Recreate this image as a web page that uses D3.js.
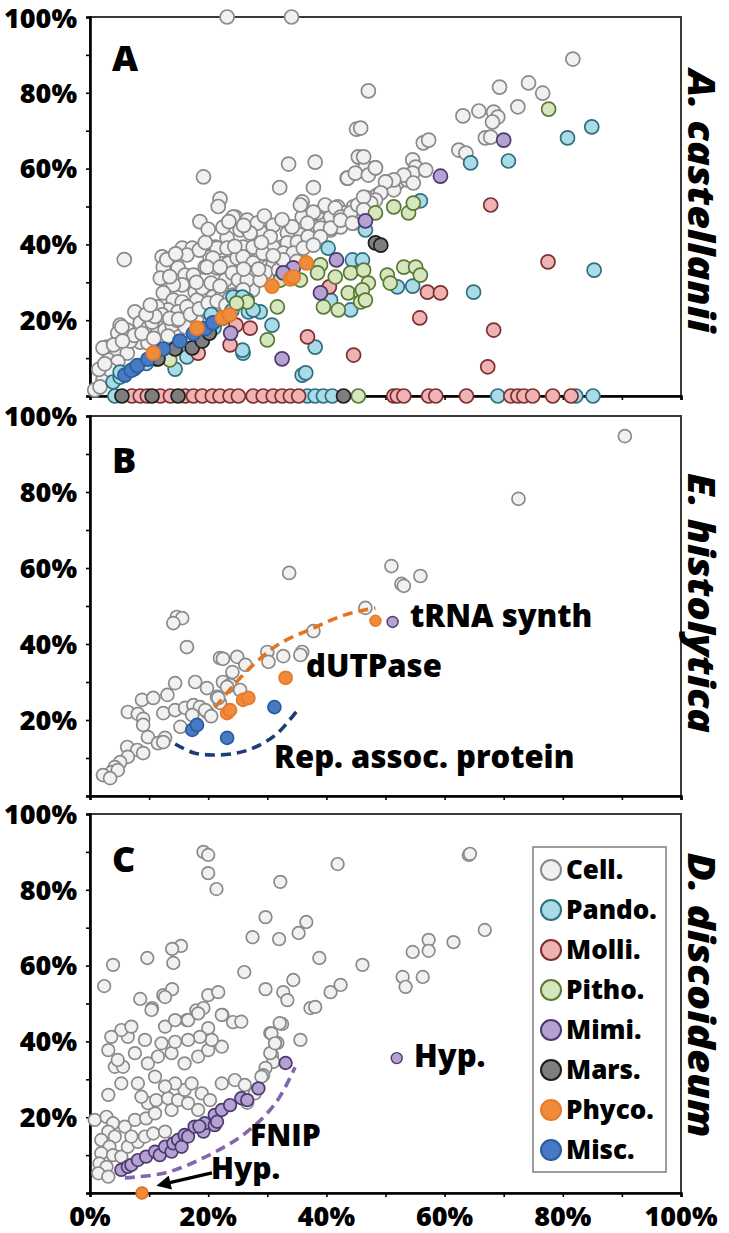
<!DOCTYPE html>
<html><head><meta charset="utf-8">
<script src="https://cdn.jsdelivr.net/npm/d3@7"></script>
<style>body{margin:0;background:#fff}text{font-family:"Open Sans",sans-serif;font-weight:800}</style>
</head><body>
<svg id="chart" width="729" height="1233"></svg>
<script>
// ---------- DATA (x%, y%) ----------
const seriesNames = ["Cell.","Pando.","Molli.","Pitho.","Mimi.","Mars.","Phyco.","Misc."];
const yTickLabels = [20,40,60,80,100];
const xTickLabels = [0,20,40,60,80,100];

// Panel A: A. castellanii
const aCell = [[23.2,100],[34.1,100],[47.1,80.5],[45.1,70.4],[19.2,57.8],[33.6,61.2],[38.1,61.7],[32.1,55],[37.8,55],[45.5,63],[43.5,57.5],[22,52],[21.7,50],[18.6,46],[5.8,36],
[24.6,47.2],[25.4,43.8],[23.2,41.7],[21.2,39.3],[22.4,38.5],[15.6,39],[17.3,39],[16.4,37.2],[12.2,36.7],[12.4,34],[20.3,36.7],[19.5,34],[21.5,33.8],[23.4,35],[24.9,36.4],[14.9,33.8],[16.1,31.9],[17.5,31.9],[15.6,29.3],[14.1,29.3],[11.9,31.1],[12.4,27.2],[22.9,30.6],[24.1,32.5],[25.1,30.6],[17.8,27.4],[19.2,26.6],[20.8,26.1],[22.4,27.4],[24.1,26.6],[25.8,27.2],[14.1,25.3],[15.6,24.8],[16.6,23.5],[13.2,22.7],[14.9,22.2],[11.4,23.5],[12.2,21.4],[7.6,22.2],[8.5,19.3],[5.1,18.7],[4.7,16.6],[6.3,17.4],[9.8,17.9],[11.4,16.6],[12.7,17.4],[13.9,18.7],[16.1,18.2],[18.1,20.8],[19.8,22.2],[21.5,20.8],[22.9,21.9],[8.5,14.2],[9.8,14],[11.9,13.5],[13.9,14.2],[15.3,14.2],[2.9,12.9],[4.6,11.6],[6.3,11.3],[3.1,9.5],[4.7,9],[2.2,4.2],[0.8,1.6],[1.7,2.4],[3.4,6.9],
[2.2,12.7],[5.4,18.2],[24.2,47.2],[26.6,46.4],[28.8,45.9],[26.8,43.8],[28.8,43.3],[21.5,39],[23.2,39],[20.8,36.4],[19.8,34],[22,34],[26.6,36.7],[28.3,35.9],[27.6,33.2],[30,34],[30,31.4],[27.1,31.4],[31.7,35.1],[33.4,36.7],[32.5,39.3],[34.4,41.2],[35.6,42.5],[35.9,47.2],[37.8,44.6],[36.9,41.2],[33.4,43],[38.5,48.3],[39.8,49.9],[40.7,47.2],[41.9,49.9],[43.2,48.3],[44.6,49.9],[45.8,48.3],[39,43],[40.7,43.8],[42.4,44.6],[44.6,45.6],[23.7,25.9],[25.4,27.2],[27.5,28],[23.2,22.7],[18.1,25.3],[19.5,22.7],[16.4,23.5],[14.7,20],
[45.4,63.1],[46.6,60.4],[48.3,60.2],[43.6,57.5],[44.9,58.8],[47.1,58.3],[35.9,51.2],[35.6,50.4],[39.8,50.4],[41.5,49.6],[37.8,48.5],[42.4,47.2],[44.1,48.3],[45.3,50.4],[47,52.2],[48.6,53],[50.3,56.5],[52,56.2],[53.7,57],[51.4,54.4],[34.2,44.6],[36.8,45.6],[39,44.3],[40.7,44.3],[42.4,46.4],[44.4,45.6],[28.3,45.6],[27.1,43],[31,39.3],[33.4,40.4],[35.1,40.6],[36.9,42],[39,42],[32.7,37.7],[34.4,37.7],[36.1,39],[37.8,39.8],[25.9,39.3],[27.6,39.3],[29.3,37.7],[25.9,36.7],[27.6,35.1],[31,34.6],[29.7,32.7],[31.9,33.2],[32.7,35.9],[27.1,32.5],[26.6,30.6],[28.8,30.6],[25.9,28],
[6.8,14.5],[7.5,16],[8.8,16.5],[10.5,19.5],[11,21],[9.5,21.5],[10.2,24],[13.5,20.5],[15,20.3],[17,21.5],[18.5,23],[20,24.5],[21.5,25],[23,24],[19,28.5],[20.5,29.8],[22,29],[18,30],[13.5,31.5],[13,36],[14.5,37.5],[18.5,38.5],[19.5,40.5],[20,44],[22.5,44.5],[23.5,46],[26,45],[29.5,47.5],[31,45],[32.5,46.5],[30.5,42],[29,40.5],[31,37],[35,35.5],[34,33],[28.5,33.5],[26,33.5],[24.5,39.5],[10.8,15.2],[13.2,15.8],[1.5,7],[2.5,8.5],[4,13.5],[5.5,14.5],
[81.7,88.9],[69.3,81.5],[74.2,82.6],[76.6,79.9],[72.4,76.3],[63.1,73.9],[65.8,75.2],[68.3,74.9],[69,73.6],[68.1,72.3],[66.9,68.1],[67.8,68.3],[62.4,64.9],[63.6,64.1],[56.4,66.8],[57.3,67.5],[54.6,62.3],[55.1,60.4],[54.6,58.8],[53.1,58.3],[51.4,57],[50,56.5],[48.3,60.2],[46.3,63.1],[45.8,70.7],[56.8,59.6],[54.7,56.2],[49.2,53.6],[48.3,51.7],[47.5,50.9],[46.3,52.5],[46.3,49.1]];
const aPando = [[4.2,0],[36.8,0],[38.1,0],[39.5,0],[41,0],[69,0],[82.2,0],[85.1,0],
[3.9,3.7],[5.1,5.0],[5.1,6.3],[14.4,7.1],[16.4,10.3],[25.9,11.3],[25.1,25.9],[26.8,22.2],[28.8,22.2],[27.6,22.7],[26.6,25.3],[30.8,18.7],[38.1,12.9],[35.9,5.5],[36.5,6.1],[40.3,39],[44.4,35.9],[46.1,35.9],[40.7,25.3],[44.1,22.7],[46.6,43.8],[55.9,51.5],[64.4,61.5],[70.8,62],[80.8,68.1],[84.9,71],[85.3,33.2],[64.9,27.4],[52,28.8],[54.6,29],[24.2,26.1],[25.8,26.1],[25.8,12.1],[11.2,9.8],[9.5,8.6],
[7.5,7.2],[13,10.5],[18.5,15.5],[21,18],[22.5,20.5],[24,22.5],[20.5,21.5]];
const aMolli = [[7.1,0],[8.5,0],[9.7,0],[11.9,0],[13.6,0],[16.1,0],[17.5,0],[19,0],[20.7,0],[22,0],[23.7,0],[25.1,0],[27.6,0],[29.3,0],[31,0],[32.5,0],[33.9,0],[35.3,0],[51.4,0],[52,0],[53.1,0],[57.3,0],[58.5,0],[63.7,0],[71.2,0],[72.4,0],[73.4,0],[74.9,0],[78.3,0],[81.4,0],
[24.7,18.7],[27.1,17.9],[23.7,13.5],[18.3,11.3],[36.8,15.6],[40.5,28.8],[44.6,10.8],[67.8,50.4],[77.5,35.4],[57.1,27.4],[59.3,27.2],[55.8,20.6],[68.3,17.4],[67.3,7.7],[12.0,10.5]];
const aPitho = [[45.4,0],[26.6,24.8],[30,14.8],[31.7,23.5],[32.5,31.1],[39,34.6],[38.5,32.5],[41.5,31.4],[39.5,23.5],[42,22.7],[44.1,32.5],[46.3,33.2],[47.1,29.8],[43.7,27.2],[45.8,27.2],[45.8,24.8],[50.3,31.9],[50.8,29.8],[53.1,34],[55.1,34],[55.9,31.9],[48.3,48.3],[51.4,49.9],[53.9,48.3],[54.7,50.9],[77.6,75.7],[32.2,30.6],[35.6,30.6],[46.1,28],[46.6,25.3],[24.8,24.5],[13.5,9.5]];
const aMimi = [[32.5,9.8],[39,27.2],[41.7,35.9],[34.4,33.8],[46.6,46.2],[59.3,58],[70,67.5],[32.7,32.5],[23.8,16.6]];
const aMars = [[5.4,0],[10.5,0],[14.9,0],[42.9,0],[11.5,9.8],[14.4,12.4],[17.3,12.7],[19,14.5],[20.2,16.6],[48.3,40.4],[49.2,39.8]];
const aPhyco = [[18.1,17.9],[22.4,20.6],[23.6,21.4],[30.8,29],[33.9,30.9],[34.4,31.4],[36.6,35.1],[10.7,11.3]];
const aMisc = [[5.9,5.5],[7,6.8],[8,8],[9.8,9.7],[12.4,12.4],[15.2,14.5],[17.5,16.5],[19.5,17.8],[20.8,19.3]];

// Panel B: E. histolytica
const bCell = [[90.5,94.7],[72.5,78.2],[51,60.5],[55.9,57.9],[52.7,55.8],[53.1,55.3],[46.6,49.5],[33.7,58.7],[37.8,43.4],[35.9,37.9],[35.6,37.1],[32.7,36.8],[30,37.9],[30.2,35.3],[14.7,47.1],[15.6,46.8],[14.1,45.5],[16.4,39.2],[22,36.3],[22.5,36.1],[24.9,36.6],[26.3,34.5],[24.1,32.6],[22.5,30],[23.7,29.2],[25.4,27.9],[21.5,26.1],[22,24.5],[14.4,29.7],[13.1,26.6],[17.8,30],[19.8,28.4],[8.8,25.3],[10.7,25.8],[6.4,22.1],[8.1,21.6],[9,20.3],[9,18.7],[12.4,21.8],[14.4,22.6],[16.1,23.2],[17.5,23.9],[18.6,23.4],[19.8,22.1],[17.3,21.3],[15.3,18.2],[9.8,15.5],[11.5,13.9],[12.7,15.3],[12.4,14.2],[6.3,12.9],[8,12.1],[9,11.3],[6.4,10.3],[5.1,8.9],[4.2,7.6],[2.9,5.5],[3.7,6.3],[4.7,6.8],[2.2,5.5],[3.4,4.7],[23.2,28.7],[21.7,25.8],[19.5,22.6],[20.5,21.0]];
const bPhyco = [[23.2,21.8],[23.7,22.6],[25.9,25.3],[26.8,25.8],[33.1,31.1]];
const bMisc = [[17.3,17.4],[18.1,18.7],[23.2,15.3],[31.2,23.4]];
const bPhycoTRNA = [[48.3,46.1]];
const bMimiTRNA = [[51.2,45.8]];
const bCurveDUT = [[21.2,23.4],[24.5,29.5],[27.6,34.5],[32,40],[37.8,44.2],[43,47.6],[48.3,49.5]];
const bCurveRep = [[14.4,13.7],[17.5,11.4],[20.8,10.8],[24.5,11.2],[27.6,12.6],[31.5,16.2],[35.1,22.6]];

// Panel C: D. discoideum
const cCell = [[19.2,90],[20,89.2],[20,84.4],[21.4,80.2],[41.9,86.8],[32.2,82.1],[29.7,72.8],[27.5,67.5],[32,67],[35.3,68.6],[36.6,71.5],[38.8,62],[46.1,60.2],[26.1,58.3],[29.7,53.8],[34.4,56.2],[32.7,53],[33.4,50.9],[40.7,53],[42.4,54.9],[20,52.2],[21.7,53],[15.4,65.2],[13.9,64.4],[14.1,60.7],[9.7,62],[3.9,60.2],[2.4,54.6],[8.5,51.2],[12.4,52.2],[13.9,53.8],[12.7,51.7],[35.6,40.4],[37.3,48.8],[38.1,49.1],[64.1,89.2],[64.3,89.5],[66.8,69.4],[61.5,66.2],[57.3,66.8],[57.3,63.9],[54.6,63.6],[52.9,57],[53.4,54.4],[56.3,57],[10.5,48.8],[16.4,45.6],[18,48.2],[19.2,48.8],[24.2,45.1],[22.4,47],[20.0,43.5],[31.7,39.6],[30.8,36.4],[31,34.6],[29.7,33],[29.3,31.1],[30.5,42.2],[32.5,44.6],
[0.8,19.3],[2.8,20.1],[3.9,18.4],[3.1,16.2],[4.2,14.9],[5.9,17.5],[1.9,14],[3.3,12.2],[1.9,10.5],[3.9,10],[1.6,7.8],[2.8,6.9],[1.4,5.2],[3.1,4.3],[5.3,9.6],[6.4,12.2],[8.1,13.5],[7,14.9],[9.3,14.9],[10.7,15.7],[12.7,16.2],[7.6,19.3],[9.5,19.7],[11,21],[13.8,21.9],[9.8,23.7],[11.2,24.5],[13.2,25],[14.9,24.5],[16.6,23.7],[18.3,21.9],[8.7,25.4],[16,27.2],[14.4,28.9],[17.2,28.9],[18.9,26.3],[20.3,24.5],[22.3,28.9],[12.7,28.1],[11,30.7],[8.1,28.9],[5.3,28.9],[3.1,25.9],[4.2,33.3],[5.6,33.3],[3.1,37.7],[4.7,35.1],[7.6,36.9],[9.8,34.2],[11.5,36],[13.8,36.9],[16,34.2],[18.3,36],[20,37.7],[22.3,38.6],[20.6,40.4],[18.6,41.2],[16.6,40.4],[14.4,39.9],[12.1,39.5],[9.3,40.4],[6.4,41.2],[5.3,43],[3.6,41.2],[7,43.9],[12.7,43.9],[14.4,45.6],[16.6,45.6],[18.3,47.4],[10.4,48.3],[22.3,47],[25.6,45.2],[24.5,29.8],[26.2,28.5],[29,30.7],[30.5,36.9],[30.7,42.1],[32.1,44.8],[31.3,39.5],[27.9,26.3],[26.6,23.8]];
const cMimi = [[5.3,6.1],[6.4,6.9],[7,7.4],[8.1,8.7],[9.5,9.6],[11,10.9],[11.8,10],[12.7,12.2],[13.8,10.9],[14.1,13.1],[14.9,14],[15.5,12.2],[16,15.3],[16.6,14.9],[17.7,17.5],[19.2,16.2],[19.4,18.4],[21.1,17.9],[21.1,20.6],[22.3,21.9],[23.7,23.2],[25.6,25],[26.6,24.5],[28.5,27.6],[33.1,34.3],[21.5,18.8],[18.5,17.6]];
const cMimiHyp = [[51.9,35.6]];
const cPhycoHyp = [[8.8,0]];
const cCurveFNIP = [[5.9,4.0],[12.7,5.3],[19.5,9.5],[26.3,15.8],[31.4,23.7],[34.7,33.2]];
const cArrow = [[20.3,5.3],[11.6,1.9]];

// ---------- STYLES ----------
const fills = {"Cell.":"#f1f1f1","Pando.":"#a9dbe8","Molli.":"#efb3b3","Pitho.":"#d6e6bf","Mimi.":"#b5a2d3","Mars.":"#7e7e7e","Phyco.":"#f08b3b","Misc.":"#4779c4"};
const strokes = {"Cell.":"#8a8a8a","Pando.":"#2f6f7e","Molli.":"#7c2f30","Pitho.":"#5a7934","Mimi.":"#4a3a6e","Mars.":"#1d1d1d","Phyco.":"#e67a2a","Misc.":"#2c5c9c"};

const svg = d3.select("#chart");
const x = d3.scaleLinear().domain([0,100]).range([90,681]);

const panels = [
  {letter:"A", bottom:396, top:17, title:"A. castellanii", tlen:263, tcy:201, letterY:71, r:7,
   sets:[["Cell.",aCell],["Pando.",aPando],["Molli.",aMolli],["Pitho.",aPitho],["Mimi.",aMimi],["Mars.",aMars],["Misc.",aMisc],["Phyco.",aPhyco]]},
  {letter:"B", bottom:796, top:416, title:"E. histolytica", tlen:260, tcy:603, letterY:473, r:6.5,
   sets:[["Cell.",bCell],["Misc.",bMisc],["Phyco.",bPhyco]]},
  {letter:"C", bottom:1193, top:814, title:"D. discoideum", tlen:285, tcy:995, letterY:872, r:6.3,
   sets:[["Cell.",cCell],["Mimi.",cMimi]]}
];

panels.forEach(p => {
  const y = d3.scaleLinear().domain([0,100]).range([p.bottom, p.top]);
  p.y = y;
  const g = svg.append("g");
  g.append("rect").attr("x", x(0)).attr("y", y(100)).attr("width", x(100)-x(0)).attr("height", y(0)-y(100))
    .attr("fill","none").attr("stroke","#3a3a3a").attr("stroke-width",2);
  const ya = g.append("g").attr("transform",`translate(${x(0)},0)`)
    .call(d3.axisLeft(y).tickValues(d3.range(0,101,10)).tickSize(4).tickFormat(""));
  const xa = g.append("g").attr("transform",`translate(0,${y(0)})`)
    .call(d3.axisBottom(x).tickValues(d3.range(0,101,10)).tickSize(4).tickFormat(""));
  [ya,xa].forEach(a => { a.select(".domain").attr("stroke","#000").attr("stroke-width",2.6);
    a.selectAll(".tick line").attr("stroke","#000").attr("stroke-width",1.6); });
  g.selectAll(".ylab").data(yTickLabels).join("text")
    .attr("x", 77).attr("y", d => y(d) + (d === 100 && p.letter === "A" ? 1 : 0)).attr("dy","0.36em").attr("text-anchor","end")
    .attr("font-size",27).attr("fill","#000").text(d => d + "%");
  p.sets.forEach(([name, data]) => {
    g.append("g").selectAll("circle").data(data).join("circle")
      .attr("cx", d => x(d[0])).attr("cy", d => y(d[1])).attr("r", p.r)
      .attr("fill", fills[name]).attr("stroke", strokes[name]).attr("stroke-width",1.7);
  });
  g.append("text").attr("x",112).attr("y",p.letterY).attr("font-size",36).text(p.letter);
  g.append("text").attr("transform",`translate(688,${p.tcy}) rotate(90)`)
    .attr("text-anchor","middle").attr("font-size",37).attr("font-style","italic")
    .attr("textLength",p.tlen).attr("lengthAdjust","spacingAndGlyphs").text(p.title);
});

const pc = panels[2];
svg.selectAll(".xlab").data(xTickLabels).join("text")
  .attr("x", d => x(d)).attr("y", 1226).attr("text-anchor","middle")
  .attr("font-size",27).text(d => d + "%");

// Panel B annotations
const pb = panels[1];
const lineB = d3.line().curve(d3.curveCatmullRom.alpha(0.5)).x(d => x(d[0])).y(d => pb.y(d[1]));
svg.append("path").attr("d", lineB(bCurveDUT)).attr("fill","none").attr("stroke","#e5741f")
  .attr("stroke-width",3.6).attr("stroke-dasharray","10,6");
svg.append("path").attr("d", lineB(bCurveRep)).attr("fill","none").attr("stroke","#1c3e78")
  .attr("stroke-width",3.6).attr("stroke-dasharray","10,6");
[["Phyco.",bPhycoTRNA],["Mimi.",bMimiTRNA]].forEach(([n,data]) => {
  svg.append("g").selectAll("circle").data(data).join("circle")
    .attr("cx", d => x(d[0])).attr("cy", d => pb.y(d[1])).attr("r",5.5)
    .attr("fill",fills[n]).attr("stroke",strokes[n]).attr("stroke-width",1.4);
});
svg.append("text").attr("x",410).attr("y",627).attr("font-size",31).text("tRNA synth");
svg.append("text").attr("x",306).attr("y",677).attr("font-size",31).text("dUTPase");
svg.append("text").attr("x",274).attr("y",768).attr("font-size",31).text("Rep. assoc. protein");

// Panel C annotations
const lineC = d3.line().curve(d3.curveCatmullRom.alpha(0.5)).x(d => x(d[0])).y(d => pc.y(d[1]));
svg.append("path").attr("d", lineC(cCurveFNIP)).attr("fill","none").attr("stroke","#8366ad")
  .attr("stroke-width",3.6).attr("stroke-dasharray","10,6");
svg.append("g").selectAll("circle").data(cMimiHyp).join("circle")
  .attr("cx", d => x(d[0])).attr("cy", d => pc.y(d[1])).attr("r",5.5)
  .attr("fill",fills["Mimi."]).attr("stroke",strokes["Mimi."]).attr("stroke-width",1.4);
svg.append("g").selectAll("circle").data(cPhycoHyp).join("circle")
  .attr("cx", d => x(d[0])).attr("cy", d => pc.y(d[1])).attr("r",6)
  .attr("fill",fills["Phyco."]).attr("stroke","#d86a1c").attr("stroke-width",1.4);
svg.append("defs").append("marker").attr("id","ah").attr("viewBox","0 0 10 10")
  .attr("refX",2).attr("refY",5).attr("markerWidth",4.6).attr("markerHeight",4.2)
  .attr("orient","auto").append("path").attr("d","M0,0 L10,5 L0,10 z").attr("fill","#000");
svg.append("line").attr("x1",x(cArrow[0][0])+2).attr("y1",pc.y(cArrow[0][1]))
  .attr("x2",x(cArrow[1][0])+9).attr("y2",pc.y(cArrow[1][1])-2.6)
  .attr("stroke","#000").attr("stroke-width",3.4).attr("marker-end","url(#ah)");
svg.append("text").attr("x",414).attr("y",1067).attr("font-size",31).text("Hyp.");
svg.append("text").attr("x",250).attr("y",1146).attr("font-size",30).text("FNIP");
svg.append("text").attr("x",211).attr("y",1179).attr("font-size",30).text("Hyp.");

// Legend
const lg = svg.append("g");
lg.append("rect").attr("x",533).attr("y",847).attr("width",133).attr("height",325)
  .attr("fill","#fff").attr("stroke","#7f7f7f").attr("stroke-width",1.5);
const items = lg.selectAll("g.item").data(seriesNames).join("g")
  .attr("transform",(d,i) => `translate(551,${870 + i*40})`);
items.append("circle").attr("r",10).attr("fill",d => fills[d]).attr("stroke",d => strokes[d]).attr("stroke-width",2);
items.append("text").attr("x",15).attr("dy","0.36em").attr("font-size",26).text(d => d);
</script>
</body></html>
